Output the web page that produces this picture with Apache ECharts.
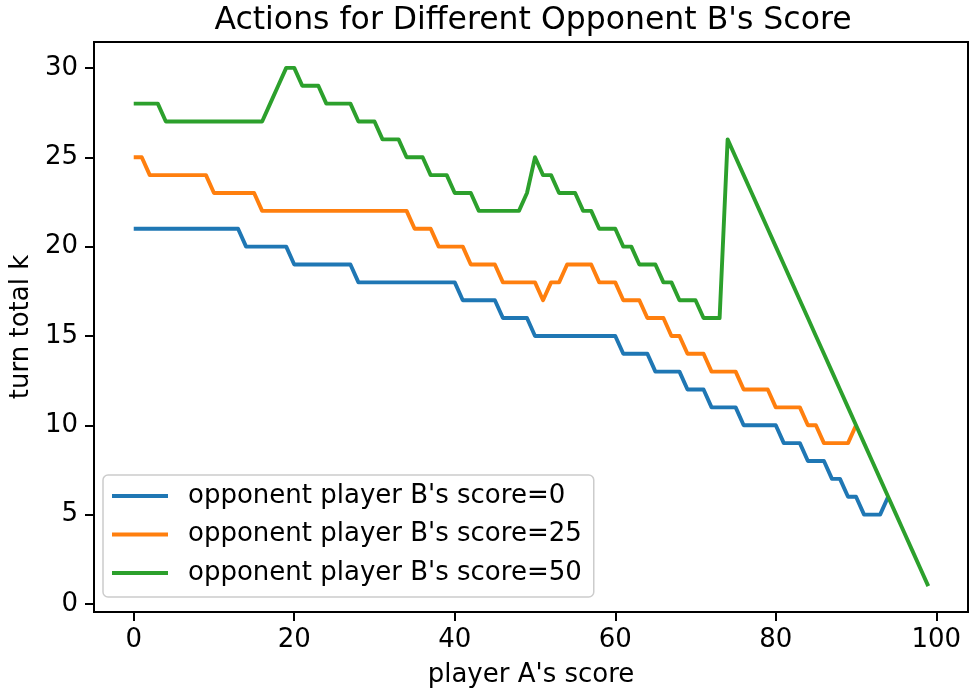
<!DOCTYPE html>
<html>
<head>
<meta charset="utf-8">
<script src="https://cdn.jsdelivr.net/npm/echarts@6/dist/echarts.min.js"></script>
<style>
html,body{margin:0;padding:0;background:#fff;}
#chart{width:971px;height:693px;}
</style>
</head>
<body>
<div id="chart"></div>
<script>
var titleText = "Actions for Different Opponent B's Score";
var xLabel = "player A's score";
var yLabel = "turn total k";
var seriesNames = ["opponent player B's score=0", "opponent player B's score=25", "opponent player B's score=50"];
var xTicks = [0, 20, 40, 60, 80, 100];
var yTicks = [0, 5, 10, 15, 20, 25, 30];

// values at player A's score = 0, 1, 2, ...
var scoreB0 = [
  21,21,21,21,21,21,21,21,21,21,21,21,21,21,
  20,20,20,20,20,20,
  19,19,19,19,19,19,19,19,
  18,18,18,18,18,18,18,18,18,18,18,18,18,
  17,17,17,17,17,
  16,16,16,16,
  15,15,15,15,15,15,15,15,15,15,15,
  14,14,14,14,
  13,13,13,13,
  12,12,12,
  11,11,11,11,
  10,10,10,10,10,
  9,9,9,
  8,8,8,
  7,7,
  6,6,
  5,5,5,
  6
];
var scoreB25 = [
  25,25,
  24,24,24,24,24,24,24,24,
  23,23,23,23,23,23,
  22,22,22,22,22,22,22,22,22,22,22,22,22,22,22,22,22,22,22,
  21,21,21,
  20,20,20,20,
  19,19,19,19,
  18,18,18,18,18,
  17,
  18,18,
  19,19,19,19,
  18,18,18,
  17,17,17,
  16,16,16,
  15,15,
  14,14,14,
  13,13,13,13,
  12,12,12,12,
  11,11,11,11,
  10,10,
  9,9,9,9,
  10
];
var scoreB50 = [
  28,28,28,28,
  27,27,27,27,27,27,27,27,27,27,27,27,27,
  28,29,
  30,30,
  29,29,29,
  28,28,28,28,
  27,27,27,
  26,26,26,
  25,25,25,
  24,24,24,
  23,23,23,
  22,22,22,22,22,22,
  23,
  25,
  24,24,
  23,23,23,
  22,22,
  21,21,21,
  20,20,
  19,19,19,
  18,18,
  17,17,17,
  16,16,16,
  26,25,24,23,22,21,20,19,18,17,16,15,14,13,12,11,10,9,8,7,6,5,4,3,2,1
];
var colors = ['#1f77b4', '#ff7f0e', '#2ca02c'];

function toPairs(arr){ return arr.map(function(v,i){ return [i, v]; }); }

var chart = echarts.init(document.getElementById('chart'), null, {renderer:'canvas'});
var font = 'DejaVu Sans';
var allSeries = [scoreB0, scoreB25, scoreB50].map(function(arr, k){
  return {
    name: seriesNames[k],
    type: 'line',
    data: toPairs(arr),
    showSymbol: false,
    symbol: 'none',
    lineStyle: {width: 3.9, color: colors[k], join: 'round', cap: 'butt'},
    itemStyle: {color: colors[k]},
    emphasis: {disabled: true},
    z: 3
  };
});

chart.setOption({
  animation: false,
  backgroundColor: '#fff',
  textStyle: {fontFamily: font, color: '#000'},
  title: {
    text: titleText,
    left: 528, top: 0, textAlign: 'center',
    textStyle: {fontFamily: font, fontSize: 31.5, fontWeight: 'normal', color: '#000'}
  },
  grid: {
    left: 89, top: 42, right: 3, bottom: 81,
    show: true, borderColor: '#000', borderWidth: 2, backgroundColor: 'transparent'
  },
  legend: {
    data: seriesNames,
    orient: 'vertical',
    left: 103, top: 475,
    icon: 'rect',
    itemWidth: 56, itemHeight: 4,
    itemGap: 12.5,
    padding: [8, 12, 11, 9],
    backgroundColor: '#fff',
    borderColor: '#cccccc',
    borderWidth: 1.5,
    borderRadius: 5,
    textStyle: {fontFamily: font, fontSize: 26, color: '#000', padding: [0, 0, 0, 15]},
    selectedMode: false
  },
  xAxis: {
    type: 'value',
    min: -4.95, max: 103.95,
    name: xLabel,
    nameLocation: 'middle',
    nameGap: 50,
    nameTextStyle: {fontFamily: font, fontSize: 26, color: '#000'},
    axisLine: {show: true, onZero: false, lineStyle: {color: '#000', width: 2}},
    axisTick: {show: true, length: 9, lineStyle: {color: '#000', width: 2}, customValues: xTicks},
    axisLabel: {customValues: xTicks, fontFamily: font, fontSize: 26, color: '#000', margin: 15},
    splitLine: {show: false}
  },
  yAxis: {
    type: 'value',
    min: -0.45, max: 31.45,
    name: yLabel,
    nameLocation: 'middle',
    nameGap: 60,
    nameRotate: 90,
    nameTextStyle: {fontFamily: font, fontSize: 26, color: '#000'},
    axisLine: {show: true, onZero: false, lineStyle: {color: '#000', width: 2}},
    axisTick: {show: true, length: 9, lineStyle: {color: '#000', width: 2}, customValues: yTicks},
    axisLabel: {customValues: yTicks, fontFamily: font, fontSize: 26, color: '#000', margin: 16},
    splitLine: {show: false}
  },
  series: allSeries
});
</script>
</body>
</html>
